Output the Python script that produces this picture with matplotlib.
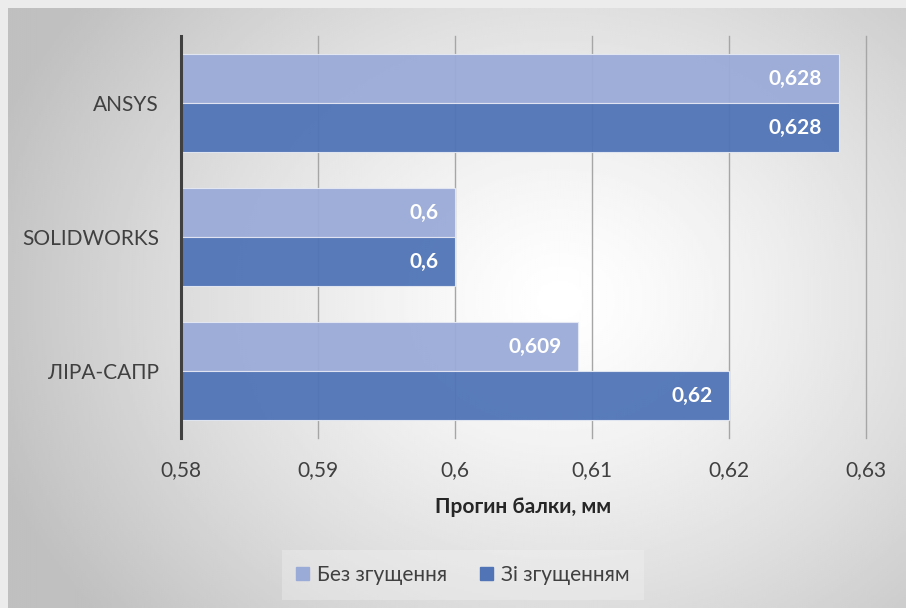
import matplotlib.pyplot as plt
import matplotlib.patches as patches
import numpy as np

# ---------------- data ----------------
categories = ['ЛІРА-САПР', 'SOLIDWORKS', 'ANSYS']
without_refine = [0.609, 0.6, 0.628]
with_refine = [0.62, 0.6, 0.628]
series_names = ['Без згущення', 'Зі згущенням']
x_ticks = [0.58, 0.59, 0.60, 0.61, 0.62, 0.63]

plt.rcParams['font.family'] = ['Lato', 'DejaVu Sans']

W, H = 906, 608
fig = plt.figure(figsize=(W / 100, H / 100), dpi=100)
fig.patch.set_facecolor('#ececec')

# ---------------- radial gradient background ----------------
bg = fig.add_axes([8 / W, 0, 1 - 8 / W, 1 - 8 / H])
bg.set_axis_off()
gx, gy = np.meshgrid(np.linspace(8, W, 400), np.linspace(8, H, 300))
d = np.sqrt(((gx - 560) / 620) ** 2 + ((gy - 300) / 520) ** 2)
shade = np.clip(1.0 - 0.26 * d ** 1.3, 0.75, 1.0)
bg.imshow(shade, cmap='gray', vmin=0, vmax=1, aspect='auto',
          extent=[0, 1, 0, 1], origin='upper', interpolation='bilinear')
bg.set_xlim(0, 1)
bg.set_ylim(0, 1)

# ---------------- main axes ----------------
ax = fig.add_axes([181 / W, (H - 438) / H, (866 - 181) / W, (438 - 36) / H])
ax.patch.set_alpha(0)

light = '#9babd8'
dark = '#5074b6'
y = np.arange(len(categories))
h = 0.366

b1 = ax.barh(y + h / 2, [v - 0.58 for v in without_refine], left=0.58, height=h,
             color=light, alpha=0.95, edgecolor='#e4e8f4', linewidth=0.8,
             label=series_names[0], zorder=2)
b2 = ax.barh(y - h / 2, [v - 0.58 for v in with_refine], left=0.58, height=h,
             color=dark, alpha=0.95, edgecolor='#e4e8f4', linewidth=0.8,
             label=series_names[1], zorder=2)

def fmt(v):
    return ('%g' % v).replace('.', ',')

for bars, vals in ((b1, without_refine), (b2, with_refine)):
    for bar, v in zip(bars, vals):
        ax.text(v - 0.0012, bar.get_y() + bar.get_height() / 2, fmt(v),
                ha='right', va='center', color='white', fontsize=15,
                fontweight='bold', zorder=3)

ax.set_xlim(0.58, 0.63)
ax.set_ylim(-0.5, 2.5)
ax.set_xticks(x_ticks)
ax.set_xticklabels([fmt(t) for t in x_ticks], fontsize=15, color='#404040')
ax.set_yticks(y)
ax.set_yticklabels(categories, fontsize=15, color='#404040')
ax.tick_params(axis='x', length=0, pad=16)
ax.tick_params(axis='y', length=0, pad=16)
ax.grid(axis='x', color='#a6a6a6', linewidth=1.0, zorder=1)
for gl in ax.get_xgridlines():
    gl.set_clip_on(False)
ax.set_axisbelow(True)

for s in ('top', 'right', 'bottom'):
    ax.spines[s].set_visible(False)
ax.spines['left'].set_color('#404040')
ax.spines['left'].set_linewidth(2.2)
ax.spines['left'].set_zorder(4)

ax.set_xlabel('Прогин балки, мм', fontsize=15, fontweight='bold',
              color='#262626', labelpad=12)

# ---------------- legend ----------------
handles = [patches.Patch(color=light), patches.Patch(color=dark)]
leg = fig.legend(handles, series_names, loc='center', bbox_to_anchor=(463 / W, 1 - 575 / H),
                 ncol=2, frameon=True, fontsize=15, handlelength=0.6, handleheight=0.6,
                 handletextpad=0.4, columnspacing=1.6, labelcolor='#404040',
                 borderpad=0.7)
leg.get_frame().set_facecolor('#f4f4f4')
leg.get_frame().set_edgecolor('none')
leg.get_frame().set_alpha(0.35)
leg.get_frame().set_boxstyle('square', pad=0.0)

fig.savefig('out.png', dpi=100, facecolor=fig.get_facecolor())
